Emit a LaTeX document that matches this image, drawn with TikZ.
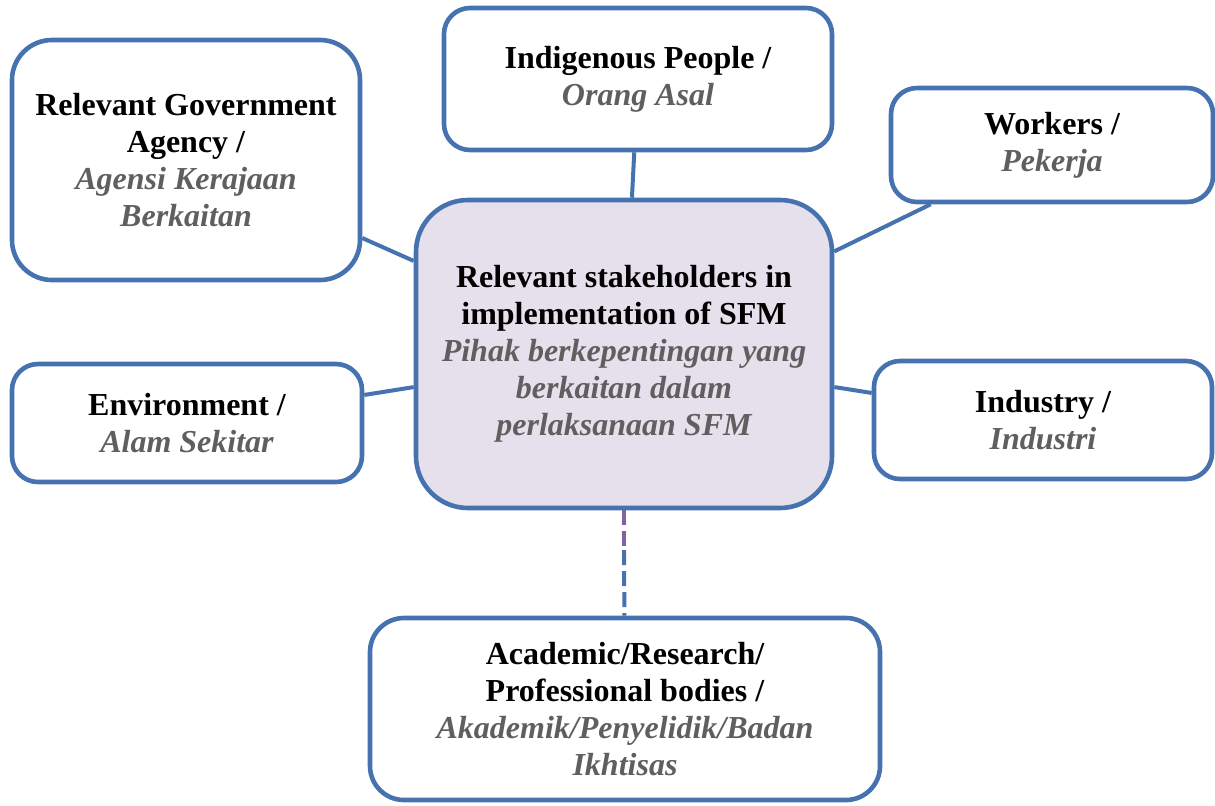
\documentclass[tikz,border=0pt]{standalone}
\usepackage{fontspec}
\setmainfont{Liberation Serif}
\usepackage{xcolor}
\definecolor{sfmblue}{RGB}{70,114,176}
\definecolor{sfmpurple}{RGB}{128,100,162}
\definecolor{sfmlilac}{RGB}{229,224,236}
\definecolor{sfmgray}{RGB}{95,95,95}
\newcommand{\malay}[1]{{\color{sfmgray}\itshape #1}}

\begin{document}
\begin{tikzpicture}[x=0.5pt,y=-0.5pt,
    stake/.style={draw=sfmblue, line width=2.3pt, fill=white, rounded corners=13pt,
        align=center, inner sep=0pt, font=\fontsize{16pt}{18.5pt}\selectfont\bfseries},
    link/.style={draw=sfmblue, line width=2pt},
    dashlink/.style={line width=2pt, dash pattern=on 7.5pt off 3pt}]
    \useasboundingbox (0,0) rectangle (1215,805);
    % centre box
    \node[stake, fill=sfmlilac, rounded corners=26pt, minimum width=208pt, minimum height=154pt]
        (hub) at (624,354) {Relevant stakeholders in\\implementation of SFM\\
        \malay{Pihak berkepentingan yang}\\\malay{berkaitan dalam}\\\malay{perlaksanaan SFM}};
    % stakeholders round it
    \node[stake, rounded corners=20pt, minimum width=174pt, minimum height=120pt]
        (gov) at (186,160) {Relevant Government\\Agency /\\\malay{Agensi Kerajaan}\\\malay{Berkaitan}};
    \node[stake, minimum width=194pt, minimum height=71pt]
        (orang) at (638,79) {Indigenous People /\\\malay{Orang Asal}};
    \node[stake, minimum width=161pt, minimum height=57pt]
        (worker) at (1052,145) {Workers /\\\malay{Pekerja}};
    \node[stake, minimum width=175pt, minimum height=59pt]
        (alam) at (187,423) {Environment /\\\malay{Alam Sekitar}};
    \node[stake, minimum width=169pt, minimum height=59pt]
        (industri) at (1043,420) {Industry /\\\malay{Industri}};
    \node[stake, rounded corners=17pt, minimum width=255pt, minimum height=91pt]
        (akademik) at (625,709) {Academic/Research/\\Professional bodies /\\
        \malay{Akademik/Penyelidik/Badan}\\\malay{Ikhtisas}};
    % connectors
    \draw[link] (gov) -- (hub);
    \draw[link] (orang) -- (hub);
    \draw[link] (worker) -- (hub);
    \draw[link] (alam) -- (hub);
    \draw[link] (industri) -- (hub);
    \coordinate (mid) at (624,550);
    \draw[dashlink, sfmpurple] (hub) -- (mid);
    \draw[dashlink, sfmblue] (mid) -- (akademik);
\end{tikzpicture}
\end{document}
